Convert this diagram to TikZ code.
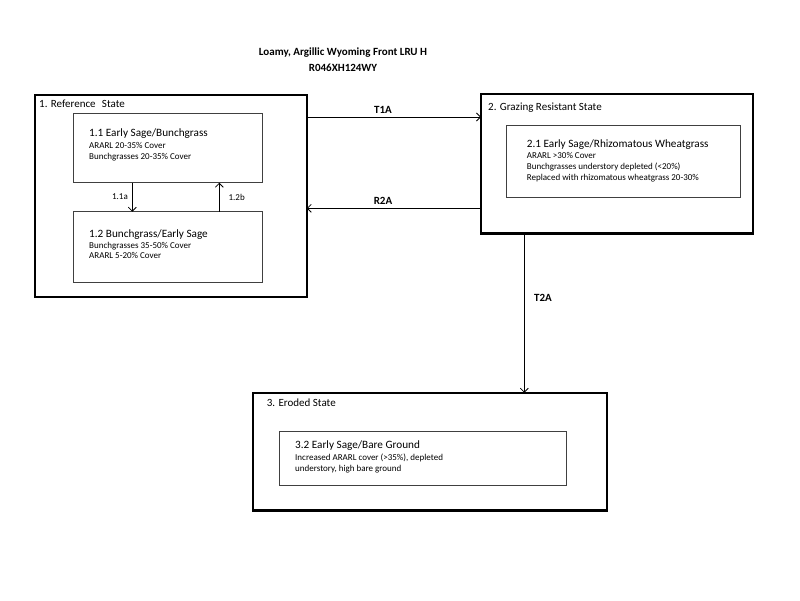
\documentclass[tikz,border=0pt]{standalone}
\usepackage{fontspec}
\setmainfont{Carlito}
\usetikzlibrary{arrows.meta}
\begin{document}
\begin{tikzpicture}[x=1pt,y=-1pt,
  statebox/.style={draw=black, line width=2.4pt, anchor=north west, inner sep=0pt, outer sep=0pt},
  subbox/.style={draw=black!75, line width=0.9pt, anchor=north west, inner sep=0pt, outer sep=0pt},
  statelbl/.style={anchor=base west, inner sep=0pt, font=\fontsize{11}{12}\selectfont},
  subtitle/.style={anchor=base west, inner sep=0pt, font=\fontsize{11.2}{13}\selectfont},
  detail/.style={anchor=base west, inner sep=0pt, font=\fontsize{9}{10}\selectfont},
  translbl/.style={inner sep=0pt, font=\bfseries\fontsize{11}{13}\selectfont},
  smalllbl/.style={inner sep=0pt, font=\fontsize{9}{10}\selectfont},
  titlelbl/.style={inner sep=0pt, align=center, font=\bfseries\fontsize{11}{16}\selectfont},
  arr/.style={draw=black, line width=0.8pt, -{Straight Barb[length=4pt,width=8pt]}}
]
\useasboundingbox[fill=white] (0,0) rectangle (800,600);

% title
\node[titlelbl] (title) at (343,60) {Loamy, Argillic Wyoming Front LRU H\\R046XH124WY};

% state boxes
\node[statebox, minimum width=272pt, minimum height=202pt] (s1) at (34.7,94.7) {};
\node[statebox, minimum width=272pt, minimum height=139.5pt] (s2) at (481,94) {};
\node[statebox, minimum width=353.7pt, minimum height=117.8pt] (s3) at (253,392.7) {};

% community boxes
\node[subbox, minimum width=188.7pt, minimum height=69.7pt] (b11) at (73.3,113) {};
\node[subbox, minimum width=188.7pt, minimum height=71pt] (b12) at (73.3,211.7) {};
\node[subbox, minimum width=234.7pt, minimum height=72pt] (b21) at (506,125.7) {};
\node[subbox, minimum width=286.7pt, minimum height=54pt] (b32) at (279.3,431.7) {};

% texts state 1
\node[statelbl] (l1) at (39,107.7) {1. Reference\hspace{0.35em} State};
\node[subtitle] (l11) at (89,136.8) {1.1 Early Sage/Bunchgrass};
\node[detail] (l11a) at (89,148.2) {ARARL 20-35\% Cover};
\node[detail] (l11b) at (89,159.2) {Bunchgrasses 20-35\% Cover};
\node[subtitle] (l12) at (89,237.8) {1.2 Bunchgrass/Early Sage};
\node[detail] (l12a) at (89,248.9) {Bunchgrasses 35-50\% Cover};
\node[detail] (l12b) at (89,258.9) {ARARL 5-20\% Cover};

% texts state 2
\node[statelbl] (l2) at (488,110.4) {2. Grazing Resistant State};
\node[subtitle] (l21) at (526.7,147.1) {2.1 Early Sage/Rhizomatous Wheatgrass};
\node[detail] (l21a) at (526.7,158.2) {ARARL >30\% Cover};
\node[detail] (l21b) at (526.7,169.2) {Bunchgrasses understory depleted (<20\%)};
\node[detail] (l21c) at (526.7,180.9) {Replaced with rhizomatous wheatgrass 20-30\%};

% texts state 3
\node[statelbl] (l3) at (266.7,406) {3. Eroded State};
\node[subtitle] (l32) at (295,448.8) {3.2 Early Sage/Bare Ground};
\node[detail] (l32a) at (295,460.9) {Increased ARARL cover (>35\%), depleted};
\node[detail] (l32b) at (295,471.5) {understory, high bare ground};

% helper coordinates
\coordinate (x11a) at (132.3,0);
\coordinate (x12b) at (219.3,0);
\coordinate (yT1A) at (0,117);
\coordinate (yR2A) at (0,208.3);
\coordinate (xT2A) at (524.3,0);

% within-state pathways
\draw[arr] (b11.south -| x11a) -- (b12.north -| x11a);
\draw[arr] (b12.north -| x12b) -- (b11.south -| x12b);
\node[smalllbl] (p11a) at (120,197) {1.1a};
\node[smalllbl] (p12b) at (236.7,197) {1.2b};

% transitions
\draw[arr] (s1.east |- yT1A) -- (s2.west |- yT1A);
\draw[arr] (s2.west |- yR2A) -- (s1.east |- yR2A);
\draw[arr] (s2.south -| xT2A) -- (s3.north -| xT2A);
\node[translbl] (T1A) at (383,110) {T1A};
\node[translbl] (R2A) at (383,200.7) {R2A};
\node[translbl] (T2A) at (543,298) {T2A};
\end{tikzpicture}
\end{document}
